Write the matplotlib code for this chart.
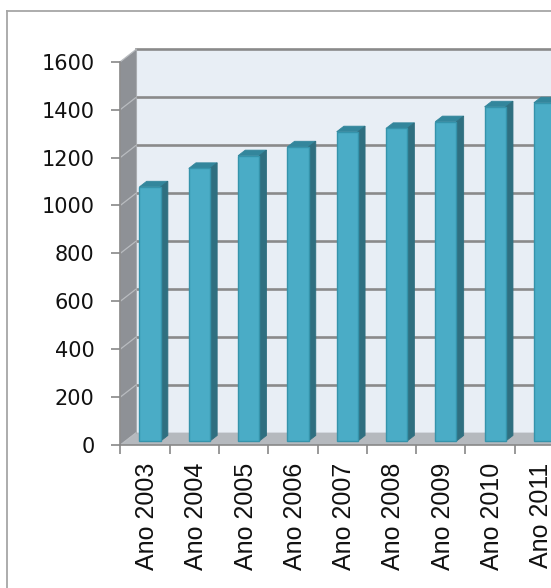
import numpy as np
import matplotlib
matplotlib.use("Agg")
import matplotlib.pyplot as plt
from matplotlib.patches import Polygon
from matplotlib.lines import Line2D

# ---- data ----
categories = ["Ano 2003", "Ano 2004", "Ano 2005", "Ano 2006", "Ano 2007",
              "Ano 2008", "Ano 2009", "Ano 2010", "Ano 2011"]
values = [1061, 1138, 1191, 1228, 1291, 1305, 1333, 1395, 1412]
yticks = [0, 200, 400, 600, 800, 1000, 1200, 1400, 1600]

W, H = 551, 588
fig = plt.figure(figsize=(W / 100, H / 100), dpi=100)

# axes placement (pixels)
ax_left, ax_right = 120.3, 120.3 + 9 * 49.3
ax_top, ax_bot = 61.7, 445.0
ax = fig.add_axes([ax_left / W, 1 - ax_bot / H, (ax_right - ax_left) / W,
                   (ax_bot - ax_top) / H])
ax.set_xlim(-0.5, len(categories) - 0.5)
ax.set_ylim(0, 1600)
ax.patch.set_visible(False)

# depth of the 3D box, px -> data units
ux = (ax_right - ax_left) / len(categories)
uy = (ax_bot - ax_top) / 1600
DX = 16.0 / ux
DY = 12.4 / uy

x0 = -0.5
xend = len(categories) + 1.5
ymax = 1600

wall_c = "#e8eef5"
side_c = "#8e9196"
floor_c = "#b5b9be"
grid_c = "#8a8a8a"

# back wall
ax.add_patch(Polygon([(x0 + DX, DY), (xend, DY), (xend, ymax + DY), (x0 + DX, ymax + DY)],
                     closed=True, fc=wall_c, ec="none", zorder=1, clip_on=False))
# left wall
ax.add_patch(Polygon([(x0, 0), (x0, ymax), (x0 + DX, ymax + DY), (x0 + DX, DY)],
                     closed=True, fc=side_c, ec="none", zorder=1, clip_on=False))
# floor
ax.add_patch(Polygon([(x0, 0), (xend, 0), (xend + DX, DY), (x0 + DX, DY)],
                     closed=True, fc=floor_c, ec="none", zorder=1, clip_on=False))

# gridlines on back wall & left wall
for yv in yticks:
    if yv > 0:
        ax.add_line(Line2D([x0 + DX, xend], [yv + DY, yv + DY], color=grid_c,
                           lw=1.9, zorder=2, clip_on=False))
    ax.add_line(Line2D([x0, x0 + DX], [yv, yv + DY], color="#b9bcc0",
                       lw=0.9, zorder=2, clip_on=False))
ax.add_line(Line2D([x0 + DX, x0 + DX], [DY, ymax + DY], color="#a9acb0",
                   lw=0.8, zorder=2, clip_on=False))

# bars (pseudo 3D)
k1, k2 = 0.32, 0.77
w = 0.43
xs = np.arange(len(categories))
front_c = "#4aacc6"
top_c = "#33869c"
sidebar_c = "#2f6f80"
ax.bar(xs + k1 * DX, values, width=w, bottom=k1 * DY, color=front_c,
       edgecolor="#3593ab", linewidth=1.0, zorder=5, clip_on=False)
for xc, v in zip(xs, values):
    xl, xr = xc - w / 2, xc + w / 2
    top = [(xl + k1 * DX, v + k1 * DY), (xr + k1 * DX, v + k1 * DY),
           (xr + k2 * DX, v + k2 * DY), (xl + k2 * DX, v + k2 * DY)]
    side = [(xr + k1 * DX, k1 * DY), (xr + k1 * DX, v + k1 * DY),
            (xr + k2 * DX, v + k2 * DY), (xr + k2 * DX, k2 * DY)]
    ax.add_patch(Polygon(top, closed=True, fc=top_c, ec=top_c, lw=0.6,
                         zorder=4, clip_on=False))
    ax.add_patch(Polygon(side, closed=True, fc=sidebar_c, ec=sidebar_c, lw=0.6,
                         zorder=4, clip_on=False))

# axes spines / ticks
for s in ["top", "right"]:
    ax.spines[s].set_visible(False)
for s in ["left", "bottom"]:
    ax.spines[s].set_color("#888888")
    ax.spines[s].set_linewidth(1.2)
    ax.spines[s].set_zorder(6)

ax.set_yticks(yticks)
ax.set_yticklabels([str(t) for t in yticks], fontfamily="DejaVu Sans",
                   fontsize=15, color="#111111")
ax.tick_params(axis="y", length=6.5, width=1.2, color="#888888", pad=12)

ax.set_xticks(np.arange(-0.5, len(categories), 1.0))
ax.set_xticklabels([""] * len(np.arange(-0.5, len(categories), 1.0)))
ax.tick_params(axis="x", which="major", length=6.5, width=1.2, color="#888888")
ax.set_xticks(xs + 0.04, minor=True)
ax.set_xticklabels(categories, minor=True, rotation=90, fontfamily="Liberation Sans",
                   fontsize=18, color="#111111")
ax.tick_params(axis="x", which="minor", length=0, pad=13)

# outer chart border (cropped)
bc = "#a6a6a6"
fig.add_artist(Line2D([7 / W, 7 / W], [0, 1 - 11 / H], color=bc, lw=1.3,
                      transform=fig.transFigure))
fig.add_artist(Line2D([7 / W, 1], [1 - 11 / H, 1 - 11 / H], color=bc, lw=1.3,
                      transform=fig.transFigure))

fig.savefig("out.png", dpi=100)
